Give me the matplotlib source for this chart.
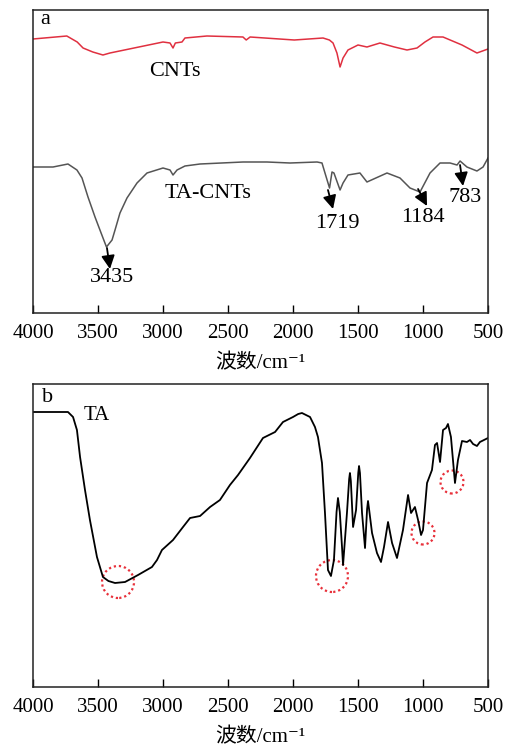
import matplotlib
matplotlib.use("Agg")
import matplotlib.pyplot as plt
from matplotlib.patches import Ellipse

# (a) CNTs 曲线: 波数 / 透过率(任意单位)
cnt_wn = [4000, 3740, 3660, 3615, 3540, 3462, 3408, 3000, 2946, 2923, 2905, 2854, 2831,
          2662, 2385, 2360, 2330, 1990, 1769, 1720, 1692, 1662, 1638, 1615, 1577, 1500,
          1431, 1331, 1220, 1123, 1046, 985, 923, 846, 700, 585, 500]
cnt_t = [274, 277, 271, 265, 261, 258, 260, 271, 270, 265, 270, 271, 275,
         277, 276, 273, 276, 273, 275, 273, 270, 260, 246, 255, 263, 268,
         266, 270, 266, 263, 265, 271, 276, 276, 268, 260, 264]

# (a) TA-CNTs 曲线
tacnt_wn = [4000, 3846, 3731, 3662, 3623, 3577, 3523, 3485, 3435, 3392, 3369, 3331,
            3277, 3200, 3123, 3000, 2946, 2923, 2892, 2831, 2715, 2385, 2200, 2023,
            1815, 1777, 1754, 1719, 1700, 1685, 1638, 1615, 1577, 1485, 1431, 1277,
            1177, 1100, 1023, 946, 869, 792, 738, 715, 662, 585, 538, 500]
tacnt_t = [146, 146, 149, 143, 135, 116, 96, 83, 66, 73, 83, 100,
           115, 130, 140, 145, 143, 138, 143, 147, 149, 151, 151, 150,
           151, 150, 140, 125, 141, 140, 123, 130, 138, 140, 131, 140,
           135, 125, 121, 140, 150, 150, 148, 152, 146, 142, 146, 155]

# (b) TA 曲线
ta_wn = [4000, 3869, 3731, 3692, 3662, 3638, 3600, 3562, 3508, 3462, 3420, 3369, 3292,
         3192, 3085, 3046, 3008, 2923, 2846, 2792, 2715, 2638, 2562, 2485, 2423,
         2331, 2231, 2138, 2077, 2000, 1960, 1931, 1900, 1869, 1831, 1808, 1777, 1754, 1731,
         1708, 1685, 1665, 1654, 1640, 1623, 1615, 1585, 1568, 1562, 1555, 1538, 1515, 1498,
         1492, 1485, 1469, 1446, 1430, 1423, 1415, 1392, 1354, 1323, 1300, 1269, 1238, 1200,
         1154, 1115, 1092, 1062, 1038, 1015, 1000, 969, 931, 908, 892, 869, 846, 823,
         808, 785, 754, 731, 700, 662, 638, 615, 585, 562, 500]
ta_t = [275, 275, 275, 270, 257, 230, 197, 167, 130, 110, 106, 104, 105,
        112, 120, 127, 137, 147, 160, 169, 171, 180, 187, 202, 212,
        229, 249, 255, 265, 270, 273, 274, 272, 270, 260, 250, 224, 174, 117,
        111, 127, 175, 189, 175, 140, 122, 174, 208, 214, 206, 160, 177, 214,
        221, 214, 174, 139, 178, 186, 178, 154, 134, 125, 140, 165, 144, 129,
        157, 192, 174, 180, 167, 152, 157, 204, 217, 242, 244, 225, 257, 259,
        263, 250, 204, 227, 246, 245, 247, 243, 241, 245, 249]

# 峰位标注 (a)
peak_labels = ["3435", "1719", "1184", "783"]
arrow_tail = [(3431, 65), (1731, 123), (1038, 124), (715, 148)]
arrow_head = [(3408, 44), (1692, 104), (969, 107), (692, 127)]
label_xy = [(3392, 36), (1662, 90), (1000, 96), (677, 116)]

# 红色虚线圈 (b): 中心和半径(像素)
circle_wn = [3346, 1700, 1000, 777]
circle_t = [105, 111, 154, 205]
circle_r = [16, 16, 11.5, 11.5]

xticks = [4000, 3500, 3000, 2500, 2000, 1500, 1000, 500]

serif = ["Liberation Serif", "DejaVu Serif", "Noto Sans CJK SC"]
plt.rcParams["font.family"] = serif
plt.rcParams["font.size"] = 15

W, H = 505, 749
fig = plt.figure(figsize=(W / 100, H / 100), dpi=100)
ax_a = fig.add_axes([33 / W, 1 - 313 / H, 455 / W, 303 / H])
ax_b = fig.add_axes([33 / W, 1 - 687 / H, 455 / W, 303 / H])

for ax in (ax_a, ax_b):
    ax.set_xlim(4000, 500)
    ax.set_ylim(0, 303)
    ax.set_xticks(xticks)
    ax.set_xticklabels([str(t) for t in xticks])
    ax.set_yticks([])
    ax.tick_params(axis="x", direction="in", length=6, width=1, pad=8,
                   labelsize=15, top=False)
    for s in ax.spines.values():
        s.set_linewidth(1.1)
        s.set_color("#222222")
    ax.set_xlabel("波数/cm⁻¹", fontsize=15, labelpad=8)

# (a)
ax_a.plot(cnt_wn, cnt_t, color="#e03040", lw=1.1)
ax_a.plot(tacnt_wn, tacnt_t, color="#555555", lw=1.1)
ax_a.text(2908, 241, "CNTs", ha="center", va="center", fontsize=16)
ax_a.text(2654, 120, "TA-CNTs", ha="center", va="center", fontsize=16)
ax_a.text(0.017, 0.967, "a", transform=ax_a.transAxes, ha="left", va="center", fontsize=16)
for lab, t0, h0, xy in zip(peak_labels, arrow_tail, arrow_head, label_xy):
    ax_a.annotate("", xy=h0, xytext=t0,
                  arrowprops=dict(arrowstyle="-|>,head_length=0.8,head_width=0.4",
                                  color="k", lw=1.3,
                                  mutation_scale=10, shrinkA=0, shrinkB=0))
    ax_a.text(xy[0], xy[1], lab, ha="center", va="center", fontsize=16)

# (b)
ax_b.plot(ta_wn, ta_t, color="k", lw=1.3)
ax_b.text(3508, 272, "TA", ha="center", va="center", fontsize=15)
ax_b.text(0.02, 0.954, "b", transform=ax_b.transAxes, ha="left", va="center", fontsize=16)
px_per_wn = 455 / 3500
px_per_t = 303 / 303
for cx, cy, r in zip(circle_wn, circle_t, circle_r):
    ax_b.add_patch(Ellipse((cx, cy), 2 * r / px_per_wn, 2 * r / px_per_t,
                           fill=False, edgecolor="#e8303a", lw=1.6, ls=(0, (1, 1.3))))

fig.savefig("out.png", dpi=100)
